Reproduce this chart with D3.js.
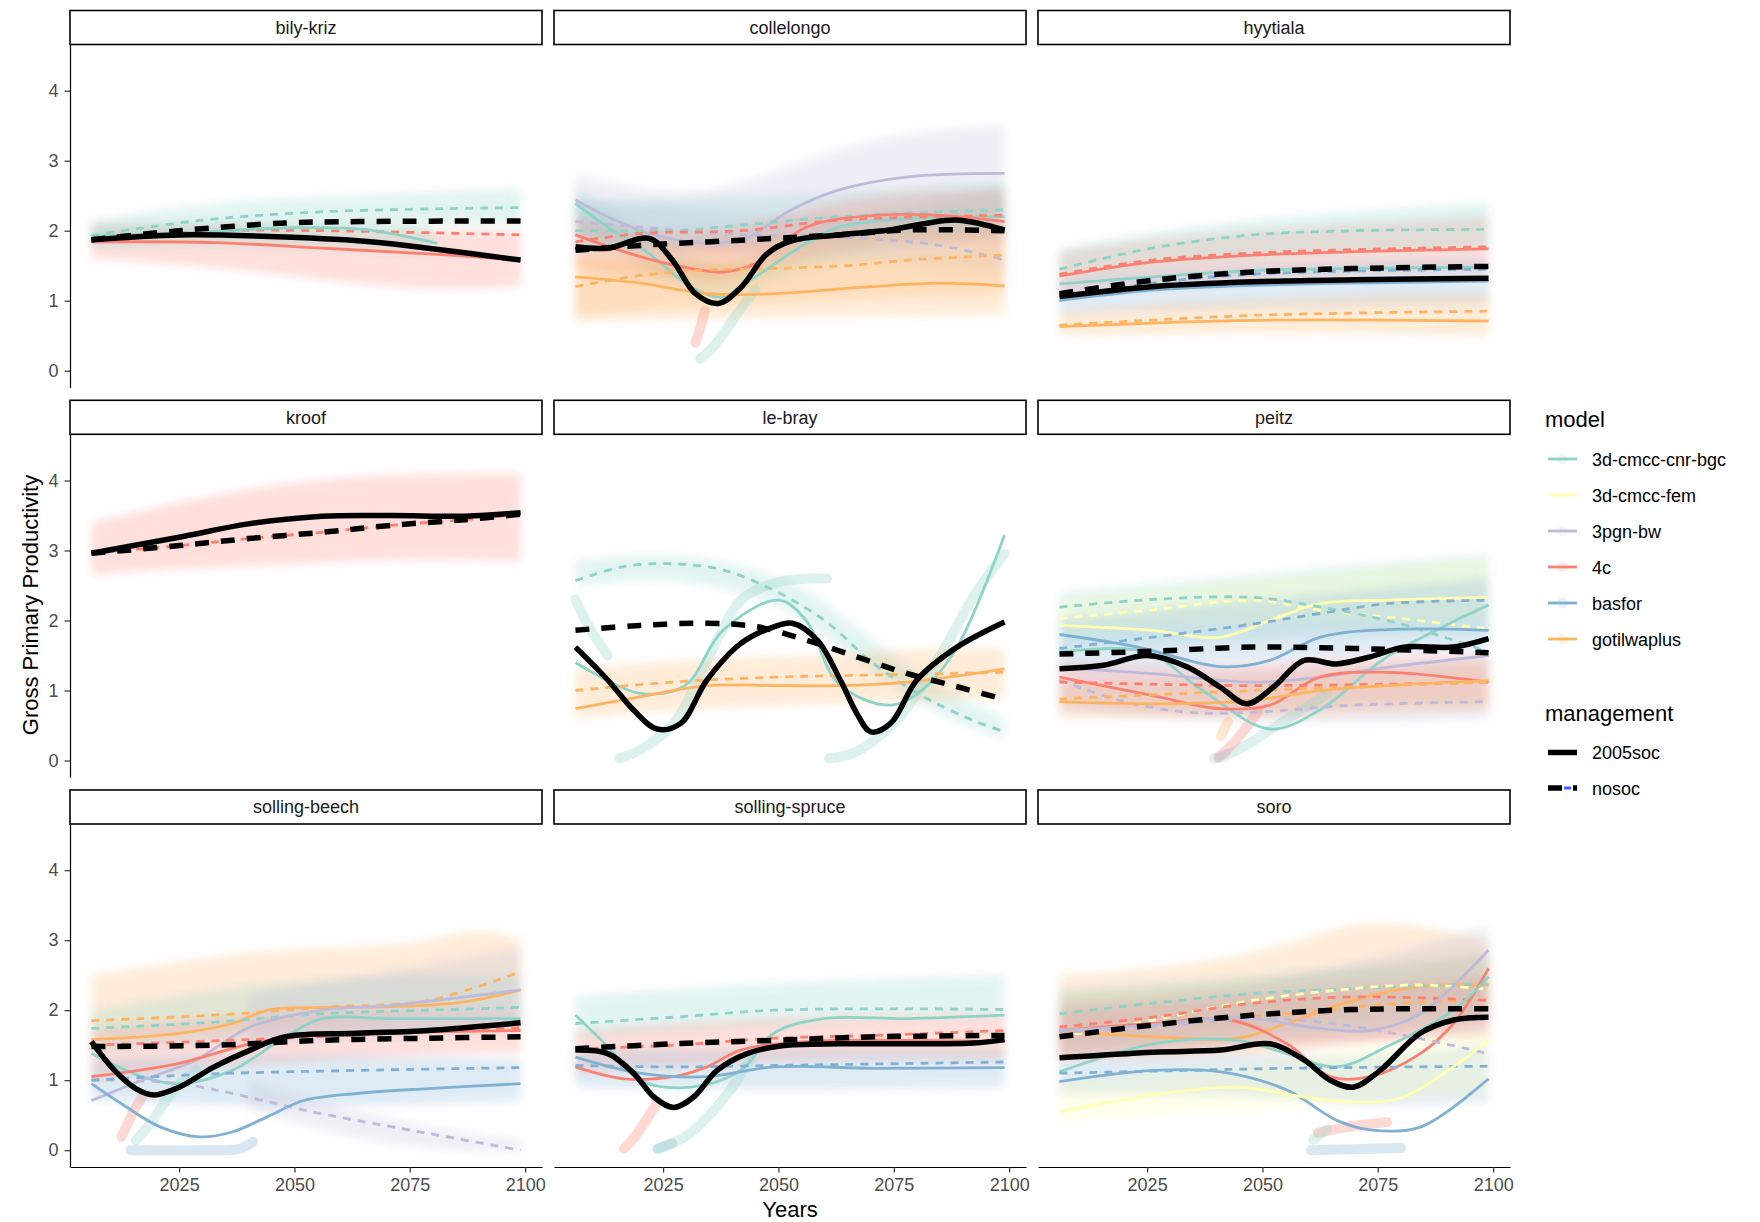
<!DOCTYPE html>
<html>
<head>
<meta charset="utf-8">
<script src="https://cdn.jsdelivr.net/npm/d3@7"></script>
<style>
  body { margin: 0; background: #fff; }
  svg { display: block; }
  text { font-family: "Liberation Sans", Arial, sans-serif; }
</style>
</head>
<body>
<svg id="chart"></svg>
<script>
// facets, in reading order
const sites = ["bily-kriz", "collelongo", "hyytiala", "kroof", "le-bray", "peitz", "solling-beech", "solling-spruce", "soro"];
const models = ["3d-cmcc-cnr-bgc", "3d-cmcc-fem", "3pgn-bw", "4c", "basfor", "gotilwaplus"];
const modelColors = ["#8dd3c7", "#ffffb3", "#bebada", "#fb8072", "#80b1d3", "#fdb462"];
const managements = ["2005soc", "nosoc"];
const xTicks = [2025, 2050, 2075, 2100];
const yTicks = [0, 1, 2, 3, 4];

// smoothed curves: [model ("all" = every model, black), management, [[year, gpp], ...]]
const bilyKrizLines = [
  ["4c", "2005soc", [[2006, 1.84], [2033, 1.83], [2056, 1.75], [2079, 1.67], [2099, 1.58]]],
  ["4c", "nosoc", [[2006, 1.89], [2036, 2.0], [2056, 2.0], [2099, 1.94]]],
  ["3d-cmcc-cnr-bgc", "2005soc", [[2006, 1.92], [2030, 1.98], [2048, 2.04], [2065, 2.02], [2081, 1.82]]],
  ["3d-cmcc-cnr-bgc", "nosoc", [[2006, 1.93], [2030, 2.15], [2056, 2.27], [2099, 2.33]]],
  ["all", "2005soc", [[2006, 1.87], [2025, 1.94], [2048, 1.91], [2067, 1.84], [2079, 1.75], [2099, 1.58]]],
  ["all", "nosoc", [[2006, 1.87], [2025, 2.0], [2048, 2.11], [2064, 2.13], [2099, 2.14]]]
];
const collelongoLines = [
  ["3pgn-bw", "2005soc", [[2006, 2.44], [2013, 2.2], [2022, 1.96], [2034.5, 1.82], [2043, 1.89], [2052.5, 2.29], [2063, 2.58], [2078, 2.77], [2099, 2.82]]],
  ["3pgn-bw", "nosoc", [[2006, 2.13], [2020, 2.05], [2040, 1.95], [2063, 1.91], [2085, 1.79], [2099, 1.58]]],
  ["3d-cmcc-cnr-bgc", "2005soc", [[2006, 2.39], [2013, 2.05], [2022, 1.67], [2031, 1.2], [2038, 1.05], [2045, 1.34], [2056, 1.82], [2063, 2.05], [2078, 2.17], [2099, 2.2]]],
  ["3d-cmcc-cnr-bgc", "nosoc", [[2006, 2.0], [2027, 2.0], [2042, 2.08], [2063, 2.2], [2099, 2.3]]],
  ["4c", "2005soc", [[2006, 1.94], [2020, 1.63], [2031, 1.46], [2038, 1.41], [2045, 1.53], [2056, 2.05], [2071, 2.22], [2085, 2.22], [2099, 2.13]]],
  ["4c", "nosoc", [[2006, 1.84], [2020, 1.96], [2042, 2.0], [2063, 2.15], [2099, 2.22]]],
  ["gotilwaplus", "2005soc", [[2006, 1.34], [2020, 1.25], [2034.5, 1.1], [2049, 1.1], [2070, 1.2], [2085, 1.25], [2099, 1.21]]],
  ["gotilwaplus", "nosoc", [[2006, 1.2], [2020, 1.36], [2034.5, 1.44], [2049, 1.46], [2067, 1.51], [2078, 1.58], [2099, 1.65]]],
  ["all", "2005soc", [[2006, 1.77], [2013, 1.75], [2022, 1.89], [2027, 1.58], [2032, 1.1], [2037, 0.96], [2042, 1.2], [2047.5, 1.67], [2053, 1.86], [2063, 1.94], [2074, 2.01], [2081.5, 2.1], [2089, 2.15], [2099, 2.01]]],
  ["all", "nosoc", [[2006, 1.72], [2020, 1.79], [2034.5, 1.84], [2049, 1.89], [2063, 1.94], [2078, 2.01], [2099, 2.0]]]
];
const hyytialaLines = [
  ["4c", "2005soc", [[2006, 1.35], [2026, 1.55], [2048, 1.65], [2070, 1.7], [2099, 1.74]]],
  ["4c", "nosoc", [[2006, 1.38], [2026, 1.58], [2048, 1.68], [2070, 1.73], [2099, 1.77]]],
  ["3d-cmcc-cnr-bgc", "2005soc", [[2006, 1.24], [2026, 1.34], [2048, 1.43], [2099, 1.48]]],
  ["3d-cmcc-cnr-bgc", "nosoc", [[2006, 1.45], [2026, 1.75], [2048, 1.94], [2070, 2.0], [2099, 2.02]]],
  ["basfor", "2005soc", [[2006, 1.0], [2026, 1.15], [2048, 1.22], [2099, 1.28]]],
  ["basfor", "nosoc", [[2006, 1.05], [2026, 1.25], [2048, 1.38], [2099, 1.45]]],
  ["gotilwaplus", "2005soc", [[2006, 0.63], [2048, 0.72], [2099, 0.71]]],
  ["gotilwaplus", "nosoc", [[2006, 0.65], [2048, 0.79], [2099, 0.85]]],
  ["all", "2005soc", [[2006, 1.06], [2026, 1.2], [2048, 1.27], [2070, 1.3], [2099, 1.32]]],
  ["all", "nosoc", [[2006, 1.1], [2026, 1.29], [2048, 1.41], [2070, 1.46], [2099, 1.49]]]
];
const kroofLines = [
  ["4c", "2005soc", [[2006, 2.96], [2025, 3.19], [2040, 3.38], [2056, 3.49], [2071, 3.5], [2087, 3.49], [2099, 3.54]]],
  ["4c", "nosoc", [[2006, 2.96], [2025, 3.07], [2040, 3.17], [2056, 3.26], [2071, 3.36], [2087, 3.44], [2099, 3.52]]],
  ["all", "2005soc", [[2006, 2.96], [2025, 3.19], [2040, 3.38], [2056, 3.49], [2071, 3.5], [2087, 3.49], [2099, 3.54]]],
  ["all", "nosoc", [[2006, 2.96], [2025, 3.07], [2040, 3.17], [2056, 3.26], [2071, 3.36], [2087, 3.44], [2099, 3.52]]]
];
const leBrayLines = [
  ["3d-cmcc-cnr-bgc", "2005soc", [[2006, 1.4], [2020, 0.96], [2029.7, 1.07], [2038, 1.86], [2050, 2.29], [2056, 2.0], [2063, 1.1], [2074, 0.79], [2081, 1.0], [2088.7, 1.62], [2099, 3.22]]],
  ["3d-cmcc-cnr-bgc", "nosoc", [[2006, 2.57], [2016.5, 2.77], [2027.3, 2.81], [2038, 2.72], [2049, 2.43], [2060, 2.0], [2070.7, 1.38], [2081.5, 0.91], [2092.3, 0.57], [2099, 0.41]]],
  ["gotilwaplus", "2005soc", [[2006, 0.74], [2020, 0.91], [2034.5, 1.07], [2049, 1.07], [2063.4, 1.07], [2078, 1.12], [2099, 1.31]]],
  ["gotilwaplus", "nosoc", [[2006, 1.0], [2027, 1.12], [2049, 1.19], [2070, 1.22], [2099, 1.26]]],
  ["all", "2005soc", [[2006, 1.62], [2013, 1.15], [2018.6, 0.72], [2023.7, 0.45], [2028.8, 0.53], [2034.5, 1.15], [2041.8, 1.67], [2049, 1.91], [2053, 1.96], [2058.4, 1.72], [2063.4, 1.15], [2067, 0.67], [2070, 0.41], [2074.3, 0.53], [2080, 1.15], [2088.7, 1.62], [2099, 1.98]]],
  ["all", "nosoc", [[2006, 1.86], [2020, 1.93], [2034.5, 1.96], [2045.4, 1.91], [2056, 1.72], [2067, 1.48], [2078, 1.24], [2089, 1.05], [2099, 0.87]]]
];
const peitzLines = [
  ["3d-cmcc-fem", "2005soc", [[2006, 1.93], [2026, 1.86], [2040.8, 1.76], [2051.6, 2.0], [2062.4, 2.24], [2077, 2.29], [2099, 2.33]]],
  ["3d-cmcc-fem", "nosoc", [[2006, 2.03], [2026, 2.15], [2048, 2.29], [2062.4, 2.15], [2077, 2.05], [2099, 1.88]]],
  ["3d-cmcc-cnr-bgc", "2005soc", [[2006, 1.55], [2025, 1.55], [2037, 1.0], [2051.6, 0.45], [2062.4, 0.72], [2077, 1.48], [2099, 2.22]]],
  ["3d-cmcc-cnr-bgc", "nosoc", [[2006, 2.19], [2026, 2.3], [2048, 2.33], [2062, 2.2], [2080, 1.95], [2099, 1.55]]],
  ["basfor", "2005soc", [[2006, 1.8], [2023, 1.62], [2041, 1.34], [2051.6, 1.43], [2062.4, 1.76], [2077, 1.87], [2099, 1.86]]],
  ["basfor", "nosoc", [[2006, 1.6], [2026, 1.76], [2048, 1.95], [2062.4, 2.1], [2077, 2.24], [2099, 2.29]]],
  ["3pgn-bw", "2005soc", [[2006, 1.33], [2026, 1.24], [2048, 1.12], [2062.4, 1.19], [2077, 1.33], [2099, 1.5]]],
  ["3pgn-bw", "nosoc", [[2006, 1.15], [2019, 0.86], [2033.6, 0.69], [2048, 0.69], [2069.7, 0.79], [2099, 0.84]]],
  ["4c", "2005soc", [[2006, 1.19], [2026, 0.93], [2040.8, 0.74], [2051.6, 0.79], [2062.4, 1.19], [2077, 1.26], [2099, 1.12]]],
  ["4c", "nosoc", [[2006, 1.12], [2026, 1.09], [2048, 1.07], [2077, 1.09], [2099, 1.12]]],
  ["gotilwaplus", "2005soc", [[2006, 0.84], [2026, 0.81], [2048, 0.86], [2062.4, 1.0], [2077, 1.07], [2099, 1.14]]],
  ["gotilwaplus", "nosoc", [[2006, 0.88], [2048, 1.0], [2099, 1.12]]],
  ["all", "2005soc", [[2006, 1.31], [2015.5, 1.36], [2025, 1.5], [2033.6, 1.34], [2040.8, 1.05], [2046.6, 0.81], [2052.4, 1.05], [2059, 1.43], [2066, 1.38], [2073.3, 1.48], [2080.6, 1.62], [2091.4, 1.62], [2099, 1.74]]],
  ["all", "nosoc", [[2006, 1.52], [2026, 1.56], [2048, 1.62], [2070, 1.6], [2099, 1.54]]]
];
const sollingBeechLines = [
  ["gotilwaplus", "2005soc", [[2006, 1.58], [2025, 1.67], [2036.5, 1.81], [2044.2, 2.0], [2056, 2.04], [2071, 2.05], [2087, 2.12], [2099, 2.29]]],
  ["gotilwaplus", "nosoc", [[2006, 1.85], [2032.6, 1.93], [2056, 2.04], [2079, 2.14], [2099, 2.55]]],
  ["3d-cmcc-cnr-bgc", "2005soc", [[2006, 1.38], [2017, 1.05], [2025, 0.95], [2036.5, 1.14], [2048, 1.62], [2056, 1.88], [2071, 1.88], [2099, 1.88]]],
  ["3d-cmcc-cnr-bgc", "nosoc", [[2006, 1.74], [2032.6, 1.83], [2056, 1.95], [2079, 2.0], [2099, 2.04]]],
  ["3pgn-bw", "2005soc", [[2006, 0.71], [2017, 1.0], [2028.7, 1.29], [2040.4, 1.76], [2056, 2.0], [2071, 2.07], [2099, 2.29]]],
  ["3pgn-bw", "nosoc", [[2006, 1.0], [2025, 0.95], [2056, 0.52], [2079, 0.24], [2099, 0.0]]],
  ["4c", "2005soc", [[2006, 1.05], [2025, 1.24], [2040.4, 1.52], [2056, 1.67], [2079, 1.69], [2099, 1.71]]],
  ["4c", "nosoc", [[2006, 1.5], [2040, 1.58], [2099, 1.75]]],
  ["basfor", "2005soc", [[2006, 0.95], [2013.5, 0.62], [2021, 0.33], [2029.5, 0.19], [2036.5, 0.26], [2044.2, 0.48], [2052, 0.71], [2063.6, 0.81], [2079, 0.88], [2099, 0.95]]],
  ["basfor", "nosoc", [[2006, 1.0], [2032.6, 1.09], [2063.6, 1.14], [2099, 1.18]]],
  ["all", "2005soc", [[2006, 1.55], [2011, 1.14], [2015.6, 0.88], [2019.5, 0.79], [2025, 0.9], [2032.6, 1.19], [2040.4, 1.43], [2048, 1.62], [2063.6, 1.67], [2079, 1.71], [2099, 1.82]]],
  ["all", "nosoc", [[2006, 1.48], [2032.6, 1.5], [2056, 1.57], [2079, 1.6], [2099, 1.62]]]
];
const sollingSpruceLines = [
  ["3d-cmcc-cnr-bgc", "2005soc", [[2006, 1.93], [2013, 1.48], [2020, 1.0], [2031, 0.9], [2041.8, 1.14], [2049, 1.67], [2059.8, 1.88], [2078, 1.88], [2099, 1.93]]],
  ["3d-cmcc-cnr-bgc", "nosoc", [[2006, 1.81], [2027.3, 1.9], [2049, 2.0], [2071, 2.02], [2099, 2.01]]],
  ["4c", "2005soc", [[2006, 1.19], [2016.5, 1.02], [2027.3, 1.05], [2034.5, 1.19], [2041.8, 1.43], [2056, 1.55], [2078, 1.57], [2099, 1.55]]],
  ["4c", "nosoc", [[2006, 1.45], [2027.3, 1.5], [2049, 1.6], [2071, 1.64], [2099, 1.71]]],
  ["basfor", "2005soc", [[2006, 1.33], [2020, 1.1], [2034.5, 1.05], [2049, 1.19], [2071, 1.17], [2099, 1.18]]],
  ["basfor", "nosoc", [[2006, 1.21], [2027.3, 1.19], [2049, 1.21], [2099, 1.26]]],
  ["all", "2005soc", [[2006, 1.43], [2013, 1.38], [2018.6, 1.1], [2023, 0.76], [2027.3, 0.61], [2031.6, 0.76], [2036.7, 1.14], [2043.2, 1.38], [2050.4, 1.49], [2063.4, 1.52], [2078, 1.52], [2092.3, 1.53], [2099, 1.58]]],
  ["all", "nosoc", [[2006, 1.45], [2027.3, 1.52], [2049, 1.57], [2071, 1.62], [2099, 1.64]]]
];
const soroLines = [
  ["gotilwaplus", "2005soc", [[2006, 1.71], [2026.4, 1.62], [2044.5, 1.6], [2055.3, 1.81], [2069.7, 2.14], [2084.2, 2.34], [2099, 2.36]]],
  ["gotilwaplus", "nosoc", [[2006, 1.7], [2030, 1.8], [2055, 1.95], [2080, 2.1], [2099, 2.15]]],
  ["3d-cmcc-cnr-bgc", "nosoc", [[2006, 1.95], [2026.4, 2.1], [2048, 2.24], [2070, 2.31], [2099, 2.38]]],
  ["3d-cmcc-fem", "nosoc", [[2006, 1.62], [2026.4, 1.86], [2048, 2.14], [2070, 2.31], [2084.2, 2.36], [2099, 2.3]]],
  ["4c", "nosoc", [[2006, 1.76], [2026.4, 1.9], [2048, 2.1], [2070, 2.19], [2099, 2.14]]],
  ["4c", "2005soc", [[2006, 1.71], [2026.4, 1.81], [2043, 1.86], [2055.3, 1.52], [2064.7, 1.05], [2073.3, 1.05], [2084.2, 1.38], [2091.4, 1.81], [2099, 2.6]]],
  ["3d-cmcc-cnr-bgc", "2005soc", [[2006, 1.12], [2026.4, 1.52], [2044.5, 1.57], [2055.3, 1.38], [2066, 1.19], [2077, 1.48], [2091.4, 2.0], [2099, 2.48]]],
  ["3pgn-bw", "2005soc", [[2006, 1.71], [2026.4, 1.79], [2044.5, 1.9], [2062.4, 1.74], [2073.3, 1.71], [2084.2, 1.95], [2099, 2.86]]],
  ["3pgn-bw", "nosoc", [[2006, 1.68], [2026.4, 1.76], [2048, 1.88], [2062.4, 1.83], [2080, 1.65], [2099, 1.38]]],
  ["basfor", "2005soc", [[2006, 0.98], [2026.4, 1.14], [2041, 1.12], [2055.3, 0.86], [2066, 0.43], [2073.3, 0.29], [2084.2, 0.33], [2099, 1.02]]],
  ["basfor", "nosoc", [[2006, 1.1], [2033.6, 1.14], [2055.3, 1.17], [2099, 1.2]]],
  ["3d-cmcc-fem", "2005soc", [[2006, 0.55], [2026.4, 0.79], [2044.5, 0.9], [2059, 0.76], [2069.7, 0.69], [2080.6, 0.76], [2099, 1.57]]],
  ["all", "2005soc", [[2006, 1.32], [2026.4, 1.4], [2041, 1.43], [2051.6, 1.52], [2059, 1.29], [2064.7, 1.0], [2069.7, 0.9], [2075.5, 1.14], [2084.2, 1.67], [2091.4, 1.86], [2099, 1.9]]],
  ["all", "nosoc", [[2006, 1.62], [2026.4, 1.79], [2048, 1.93], [2070, 2.01], [2099, 2.02]]]
];

// annual points, summarised as clouds: [model, [[year, low, high], ...]]
const bilyKrizClouds = [
  ["4c", [[2006, 1.6, 2.1], [2030, 1.5, 2.1], [2050, 1.35, 2.05], [2075, 1.15, 2.0], [2099, 1.2, 2.0]]],
  ["3d-cmcc-cnr-bgc", [[2006, 1.8, 2.15], [2030, 1.95, 2.4], [2060, 2.05, 2.5], [2099, 2.1, 2.6]]],
  ["3d-cmcc-cnr-bgc", [[2006, 1.75, 2.05], [2040, 1.8, 2.15], [2080, 1.65, 2.05]]]
];
const collelongoClouds = [
  ["3pgn-bw", [[2006, 1.9, 2.8], [2025, 1.7, 2.5], [2040, 1.6, 2.6], [2055, 1.9, 3.0], [2075, 2.1, 3.4], [2099, 2.2, 3.5]]],
  ["3pgn-bw", [[2006, 1.8, 2.5], [2040, 1.7, 2.2], [2099, 1.4, 2.2]]],
  ["3d-cmcc-cnr-bgc", [[2006, 1.7, 2.4], [2050, 1.8, 2.5], [2099, 2.0, 2.7]]],
  ["3d-cmcc-cnr-bgc", [[2006, 2.0, 2.6], [2020, 1.5, 2.0], [2038, 0.9, 1.3], [2056, 1.6, 2.1], [2099, 1.9, 2.6]]],
  ["4c", [[2006, 1.5, 2.2], [2035, 1.1, 1.8], [2060, 1.8, 2.5], [2099, 1.8, 2.6]]],
  ["gotilwaplus", [[2006, 0.7, 1.6], [2040, 0.75, 1.5], [2099, 0.8, 1.8]]],
  ["gotilwaplus", [[2006, 0.8, 1.7], [2050, 1.0, 1.9], [2099, 1.1, 2.1]]]
];
const hyytialaClouds = [
  ["4c", [[2006, 1.1, 1.7], [2040, 1.3, 2.0], [2099, 1.4, 2.2]]],
  ["3d-cmcc-cnr-bgc", [[2006, 1.3, 1.75], [2040, 1.6, 2.15], [2099, 1.75, 2.4]]],
  ["basfor", [[2006, 0.8, 1.3], [2040, 0.9, 1.55], [2099, 0.95, 1.6]]],
  ["gotilwaplus", [[2006, 0.5, 0.85], [2050, 0.55, 1.05], [2099, 0.5, 1.1]]]
];
const kroofClouds = [
  ["4c", [[2006, 2.65, 3.4], [2025, 2.75, 3.7], [2050, 2.8, 4.0], [2075, 2.9, 4.1], [2099, 2.85, 4.1]]]
];
const leBrayClouds = [
  ["3d-cmcc-cnr-bgc", [[2006, 2.5, 2.85], [2027, 2.65, 3.0], [2049, 2.3, 2.7], [2060, 1.8, 2.3], [2080, 0.75, 1.2], [2099, 0.3, 0.6]]],
  ["gotilwaplus", [[2006, 0.6, 1.3], [2030, 0.75, 1.45], [2060, 0.8, 1.5], [2080, 0.85, 1.6], [2099, 0.9, 1.6]]]
];
const peitzClouds = [
  ["3d-cmcc-cnr-bgc", [[2006, 1.6, 2.4], [2040, 1.7, 2.6], [2070, 1.8, 2.8], [2099, 1.8, 2.95]]],
  ["3d-cmcc-fem", [[2006, 1.8, 2.3], [2050, 2.0, 2.6], [2099, 2.0, 2.9]]],
  ["basfor", [[2006, 1.3, 2.0], [2050, 1.4, 2.3], [2099, 1.6, 2.6]]],
  ["4c", [[2006, 0.8, 1.4], [2040, 0.6, 1.3], [2070, 0.8, 1.5], [2099, 0.8, 1.5]]],
  ["gotilwaplus", [[2006, 0.6, 1.1], [2050, 0.6, 1.2], [2099, 0.7, 1.4]]],
  ["3pgn-bw", [[2006, 0.7, 1.4], [2050, 0.5, 1.3], [2099, 0.6, 1.5]]]
];
const sollingBeechClouds = [
  ["gotilwaplus", [[2006, 1.6, 2.5], [2025, 1.7, 2.7], [2050, 1.8, 2.9], [2075, 1.9, 2.9], [2090, 2.0, 3.2], [2099, 2.0, 3.0]]],
  ["3d-cmcc-cnr-bgc", [[2006, 1.4, 2.0], [2050, 1.6, 2.5], [2099, 1.7, 2.5]]],
  ["4c", [[2006, 1.0, 1.7], [2050, 1.3, 2.0], [2099, 1.4, 2.0]]],
  ["basfor", [[2006, 0.7, 1.3], [2050, 0.6, 1.4], [2099, 0.7, 1.3]]],
  ["3pgn-bw", [[2040, 0.6, 1.0], [2060, 0.2, 0.6], [2080, 0.0, 0.3], [2099, -0.02, 0.15]]],
  ["3pgn-bw", [[2040, 1.5, 2.2], [2099, 1.8, 2.9]]]
];
const sollingSpruceClouds = [
  ["3d-cmcc-cnr-bgc", [[2006, 1.6, 2.2], [2050, 1.8, 2.4], [2099, 1.9, 2.5]]],
  ["4c", [[2006, 1.1, 1.7], [2050, 1.3, 1.9], [2099, 1.3, 1.95]]],
  ["basfor", [[2006, 0.9, 1.45], [2050, 0.85, 1.45], [2099, 0.9, 1.45]]]
];
const soroClouds = [
  ["gotilwaplus", [[2006, 1.5, 2.5], [2030, 1.6, 2.6], [2055, 1.8, 2.9], [2070, 2.0, 3.3], [2085, 2.0, 3.2], [2099, 1.9, 3.0]]],
  ["gotilwaplus", [[2006, 1.3, 2.2], [2050, 1.3, 2.4], [2099, 1.8, 2.8]]],
  ["3d-cmcc-cnr-bgc", [[2006, 1.4, 2.3], [2050, 1.6, 2.5], [2099, 1.9, 2.8]]],
  ["4c", [[2006, 1.3, 2.0], [2050, 1.5, 2.2], [2099, 1.6, 2.5]]],
  ["basfor", [[2006, 0.8, 1.3], [2050, 0.8, 1.4], [2070, 0.6, 1.3], [2099, 0.7, 1.5]]],
  ["3d-cmcc-fem", [[2006, 0.4, 1.0], [2050, 0.6, 1.2], [2099, 0.8, 1.8]]],
  ["3pgn-bw", [[2006, 1.3, 2.1], [2050, 1.5, 2.3], [2099, 1.7, 3.2]]]
];

// runs of points after a disturbance: [site, model, [[year, gpp], ...]]
const pointTrails = [
  ["collelongo", "3d-cmcc-cnr-bgc", [[2033, 0.17], [2036, 0.35], [2039, 0.62], [2042, 0.9], [2045, 1.15]]],
  ["collelongo", "4c", [[2032, 0.4], [2033, 0.6], [2034, 0.85]]],
  ["le-bray", "3d-cmcc-cnr-bgc", [[2015.5, 0.03], [2020, 0.15], [2027.3, 0.53], [2032.4, 1.14], [2037.4, 1.81], [2042, 2.3], [2050, 2.55], [2060.5, 2.6]]],
  ["le-bray", "3d-cmcc-cnr-bgc", [[2061, 0.03], [2066, 0.1], [2071, 0.3], [2076, 0.6], [2081, 1.05], [2086, 1.6], [2091, 2.2], [2096, 2.7], [2099, 2.95]]],
  ["le-bray", "3d-cmcc-cnr-bgc", [[2006, 2.3], [2009, 1.9], [2013, 1.5]]],
  ["peitz", "3d-cmcc-cnr-bgc", [[2040.5, 0.03], [2046, 0.2], [2052, 0.45], [2058, 0.7], [2064, 0.95]]],
  ["peitz", "4c", [[2040.5, 0.05], [2043, 0.2], [2046, 0.43], [2049, 0.7]]],
  ["peitz", "3pgn-bw", [[2039.5, 0.03], [2042, 0.1]]],
  ["peitz", "gotilwaplus", [[2041, 0.35], [2042.5, 0.55]]],
  ["solling-beech", "basfor", [[2014.5, 0.0], [2030, 0.0], [2038, 0.02], [2041, 0.12]]],
  ["solling-beech", "4c", [[2012.5, 0.19], [2014, 0.4], [2015.5, 0.6], [2017, 0.76]]],
  ["solling-beech", "3d-cmcc-cnr-bgc", [[2015.6, 0.14], [2019, 0.4], [2022, 0.7], [2025, 0.95], [2028.7, 1.14]]],
  ["solling-spruce", "4c", [[2016.5, 0.02], [2019, 0.2], [2021.5, 0.45], [2023.7, 0.67]]],
  ["solling-spruce", "basfor", [[2023.7, 0.02], [2027, 0.1]]],
  ["solling-spruce", "3d-cmcc-cnr-bgc", [[2024, 0.02], [2030, 0.2], [2035, 0.5], [2040, 0.9], [2044, 1.3]]],
  ["soro", "basfor", [[2060.5, 0.0], [2080, 0.03]]],
  ["soro", "4c", [[2062, 0.25], [2070, 0.35], [2077, 0.4]]],
  ["soro", "3d-cmcc-cnr-bgc", [[2061, 0.15], [2064, 0.3]]]
];

const siteLines = [bilyKrizLines, collelongoLines, hyytialaLines, kroofLines, leBrayLines, peitzLines, sollingBeechLines, sollingSpruceLines, soroLines];
const siteClouds = [bilyKrizClouds, collelongoClouds, hyytialaClouds, kroofClouds, leBrayClouds, peitzClouds, sollingBeechClouds, sollingSpruceClouds, soroClouds];

//LAYOUT-----------------------------------------------------------------------------------
const width = 1760, height = 1222;
const panelW = 472, panelH = 343, stripH = 34;
const colX = [70, 554, 1038];
const rowY = [44.5, 434.3, 824];

const svg = d3.select("#chart")
    .attr("width", width)
    .attr("height", height)
    .attr("viewBox", `0 0 ${width} ${height}`);

svg.append("rect").attr("width", width).attr("height", height).attr("fill", "#fff");

const defs = svg.append("defs");
defs.append("filter")
    .attr("id", "soft")
    .attr("x", "-10%").attr("y", "-30%")
    .attr("width", "120%").attr("height", "160%")
    .append("feGaussianBlur")
    .attr("stdDeviation", 5);

const x = d3.scaleLinear().domain([2001.35, 2103.65]).range([0, panelW]);
const y = d3.scaleLinear().domain([-0.24, 4.66]).range([panelH, 0]);
const color = d3.scaleOrdinal().domain(models).range(modelColors);

const line = d3.line()
    .x(d => x(d[0]))
    .y(d => y(d[1]))
    .curve(d3.curveCatmullRom.alpha(0.5));

const cloudArea = d3.area()
    .x(d => x(d[0]))
    .y0(d => y(d[1]))
    .y1(d => y(d[2]))
    .curve(d3.curveBasis);

//PANELS-----------------------------------------------------------------------------------
sites.forEach((site, i) => {
    const col = i % 3, row = Math.floor(i / 3);
    const g = svg.append("g").attr("transform", `translate(${colX[col]},${rowY[row]})`);

    defs.append("clipPath").attr("id", "clip" + i)
        .append("rect").attr("width", panelW).attr("height", panelH);

    const body = g.append("g").attr("clip-path", `url(#clip${i})`);

    //point clouds
    const cloudG = body.append("g").attr("filter", "url(#soft)");
    siteClouds[i].forEach(c => {
        cloudG.append("path")
            .attr("d", cloudArea(c[1]))
            .attr("fill", color(c[0]))
            .attr("fill-opacity", 0.25);
    });

    //point trails
    pointTrails.filter(t => t[0] === site).forEach(t => {
        body.append("path")
            .attr("d", line(t[2]))
            .attr("fill", "none")
            .attr("stroke", color(t[1]))
            .attr("stroke-opacity", 0.3)
            .attr("stroke-width", 10)
            .attr("stroke-linecap", "round")
            .attr("stroke-linejoin", "round");
    });

    //model smooths
    const lines = siteLines[i];
    lines.filter(l => l[0] !== "all").forEach(l => {
        body.append("path")
            .attr("d", line(l[2]))
            .attr("fill", "none")
            .attr("stroke", color(l[0]))
            .attr("stroke-width", 2.8)
            .attr("stroke-dasharray", l[1] === "nosoc" ? "8,7" : null);
    });

    //overall smooths (black)
    lines.filter(l => l[0] === "all").forEach(l => {
        body.append("path")
            .attr("d", line(l[2]))
            .attr("fill", "none")
            .attr("stroke", "#000")
            .attr("stroke-width", 5.5)
            .attr("stroke-dasharray", l[1] === "nosoc" ? "14,12" : null);
    });

    //strip
    g.append("rect")
        .attr("x", 0).attr("y", -stripH)
        .attr("width", panelW).attr("height", stripH)
        .attr("fill", "#fff")
        .attr("stroke", "#000")
        .attr("stroke-width", 1.6);
    g.append("text")
        .attr("x", panelW / 2).attr("y", -stripH / 2)
        .attr("dy", "0.35em")
        .attr("text-anchor", "middle")
        .attr("font-size", 18)
        .attr("fill", "#1a1a1a")
        .text(site);

    //axes
    if (col === 0) {
        const ay = g.append("g")
            .call(d3.axisLeft(y).tickValues(yTicks).tickSize(5.5).tickSizeOuter(0).tickPadding(6).tickFormat(d3.format("d")));
        styleAxis(ay);
    }
    if (row === 2) {
        const ax = g.append("g")
            .attr("transform", `translate(0,${panelH})`)
            .call(d3.axisBottom(x).tickValues(xTicks).tickSize(5.5).tickSizeOuter(0).tickPadding(6).tickFormat(d3.format("d")));
        styleAxis(ax);
    }
});

function styleAxis(a) {
    a.select(".domain").attr("stroke", "#000").attr("stroke-width", 1.2);
    a.selectAll(".tick line").attr("stroke", "#333").attr("stroke-width", 1.2);
    a.selectAll(".tick text")
        .attr("font-size", 18)
        .attr("fill", "#4d4d4d")
        .attr("font-family", "Liberation Sans, Arial, sans-serif");
}

//AXIS TITLES-------------------------------------------------------------------------------
svg.append("text")
    .attr("x", 790).attr("y", 1217)
    .attr("text-anchor", "middle")
    .attr("font-size", 22)
    .text("Years");

svg.append("text")
    .attr("transform", "translate(38,605) rotate(-90)")
    .attr("text-anchor", "middle")
    .attr("font-size", 22)
    .text("Gross Primary Productivity");

//LEGEND-----------------------------------------------------------------------------------
const legend = svg.append("g");
const keyX0 = 1548, keyX1 = 1577, labelX = 1592;

legend.append("text")
    .attr("x", 1545).attr("y", 427)
    .attr("font-size", 22)
    .text("model");

models.forEach((m, i) => {
    const ky = 459 + i * 36;
    legend.append("circle")
        .attr("cx", (keyX0 + keyX1) / 2).attr("cy", ky).attr("r", 5.5)
        .attr("fill", color(m)).attr("fill-opacity", 0.15);
    legend.append("line")
        .attr("x1", keyX0).attr("x2", keyX1)
        .attr("y1", ky).attr("y2", ky)
        .attr("stroke", color(m))
        .attr("stroke-width", 2.8);
    legend.append("text")
        .attr("x", labelX).attr("y", ky + 6.5)
        .attr("font-size", 18)
        .text(m);
});

legend.append("text")
    .attr("x", 1545).attr("y", 721)
    .attr("font-size", 22)
    .text("management");

managements.forEach((m, i) => {
    const ky = 752.5 + i * 35.5;
    legend.append("line")
        .attr("x1", keyX0).attr("x2", keyX1)
        .attr("y1", ky).attr("y2", ky)
        .attr("stroke", "#000")
        .attr("stroke-width", 5.5)
        .attr("stroke-dasharray", m === "nosoc" ? "14,11" : null);
    if (m === "nosoc") {
        legend.append("line")
            .attr("x1", 1564).attr("x2", 1571)
            .attr("y1", ky).attr("y2", ky)
            .attr("stroke", "#3366ff")
            .attr("stroke-width", 3);
    }
    legend.append("text")
        .attr("x", labelX).attr("y", ky + 6.5)
        .attr("font-size", 18)
        .text(m);
});
</script>
</body>
</html>
